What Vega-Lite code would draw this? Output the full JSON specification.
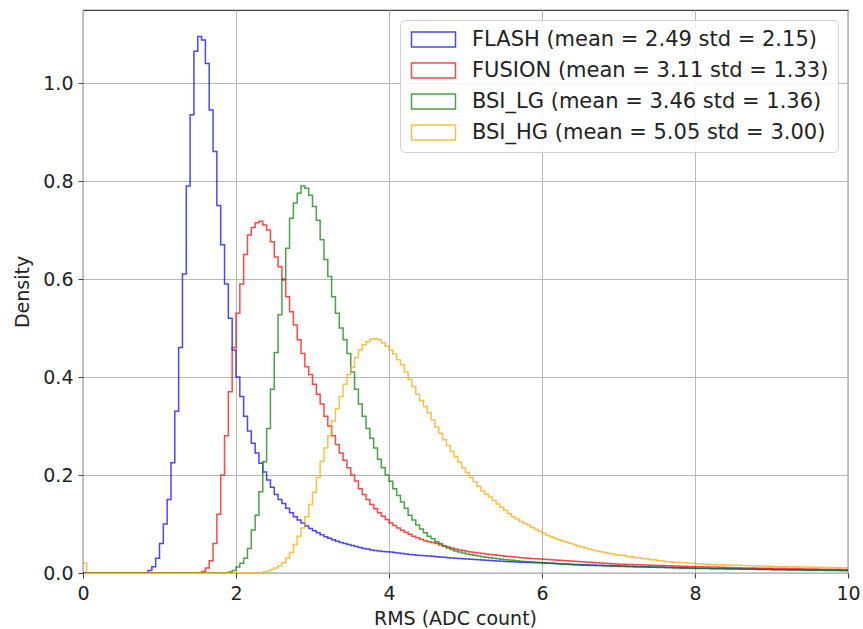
{
  "$schema": "https://vega.github.io/schema/vega-lite/v6.json",
  "width": 765,
  "height": 563,
  "autosize": {"type": "none"},
  "padding": {"left": 83, "top": 10, "right": 15, "bottom": 56},
  "background": "white",
  "config": {
    "font": "DejaVu Sans",
    "view": {"stroke": "#444", "strokeWidth": 1.2},
    "axis": {
      "domain": false,
      "grid": true,
      "gridColor": "#b8b8b8",
      "gridWidth": 1,
      "tickColor": "#444",
      "tickSize": 5,
      "tickWidth": 1,
      "labelFont": "DejaVu Sans",
      "labelFontSize": 19,
      "labelColor": "#222",
      "titleFont": "DejaVu Sans",
      "titleFontSize": 19,
      "titleFontWeight": "normal",
      "titleColor": "#222"
    },
    "legend": {
      "labelFont": "DejaVu Sans",
      "labelFontSize": 21,
      "labelColor": "#222"
    }
  },
  "data": {
    "values": [
      {"x": 0.0, "FLASH": 0, "FUSION": 0, "BSI_LG": 0, "BSI_HG": 0.02},
      {"x": 0.05, "FLASH": 0, "FUSION": 0, "BSI_LG": 0, "BSI_HG": 0},
      {"x": 0.8, "FLASH": 0, "FUSION": 0, "BSI_LG": 0, "BSI_HG": 0},
      {"x": 0.85, "FLASH": 0.005, "FUSION": 0, "BSI_LG": 0, "BSI_HG": 0},
      {"x": 0.9, "FLASH": 0.013, "FUSION": 0, "BSI_LG": 0, "BSI_HG": 0},
      {"x": 0.95, "FLASH": 0.03, "FUSION": 0, "BSI_LG": 0, "BSI_HG": 0},
      {"x": 1.0, "FLASH": 0.06, "FUSION": 0, "BSI_LG": 0, "BSI_HG": 0},
      {"x": 1.05, "FLASH": 0.1, "FUSION": 0, "BSI_LG": 0, "BSI_HG": 0},
      {"x": 1.1, "FLASH": 0.15, "FUSION": 0, "BSI_LG": 0, "BSI_HG": 0},
      {"x": 1.15, "FLASH": 0.225, "FUSION": 0, "BSI_LG": 0, "BSI_HG": 0},
      {"x": 1.2, "FLASH": 0.33, "FUSION": 0, "BSI_LG": 0, "BSI_HG": 0},
      {"x": 1.25, "FLASH": 0.46, "FUSION": 0, "BSI_LG": 0, "BSI_HG": 0},
      {"x": 1.3, "FLASH": 0.61, "FUSION": 0, "BSI_LG": 0, "BSI_HG": 0},
      {"x": 1.35, "FLASH": 0.79, "FUSION": 0, "BSI_LG": 0, "BSI_HG": 0},
      {"x": 1.4, "FLASH": 0.935, "FUSION": 0, "BSI_LG": 0, "BSI_HG": 0},
      {"x": 1.45, "FLASH": 1.065, "FUSION": 0, "BSI_LG": 0, "BSI_HG": 0},
      {"x": 1.5, "FLASH": 1.095, "FUSION": 0, "BSI_LG": 0, "BSI_HG": 0},
      {"x": 1.55, "FLASH": 1.088, "FUSION": 0.003, "BSI_LG": 0, "BSI_HG": 0},
      {"x": 1.6, "FLASH": 1.04, "FUSION": 0.01, "BSI_LG": 0, "BSI_HG": 0},
      {"x": 1.65, "FLASH": 0.945, "FUSION": 0.025, "BSI_LG": 0, "BSI_HG": 0},
      {"x": 1.7, "FLASH": 0.86, "FUSION": 0.06, "BSI_LG": 0, "BSI_HG": 0},
      {"x": 1.75, "FLASH": 0.75, "FUSION": 0.12, "BSI_LG": 0, "BSI_HG": 0},
      {"x": 1.8, "FLASH": 0.67, "FUSION": 0.2, "BSI_LG": 0, "BSI_HG": 0},
      {"x": 1.85, "FLASH": 0.59, "FUSION": 0.28, "BSI_LG": 0, "BSI_HG": 0},
      {"x": 1.9, "FLASH": 0.52, "FUSION": 0.37, "BSI_LG": 0.002, "BSI_HG": 0},
      {"x": 1.95, "FLASH": 0.455, "FUSION": 0.46, "BSI_LG": 0.005, "BSI_HG": 0},
      {"x": 2.0, "FLASH": 0.4, "FUSION": 0.53, "BSI_LG": 0.012, "BSI_HG": 0},
      {"x": 2.05, "FLASH": 0.36, "FUSION": 0.59, "BSI_LG": 0.02, "BSI_HG": 0},
      {"x": 2.1, "FLASH": 0.32, "FUSION": 0.65, "BSI_LG": 0.03, "BSI_HG": 0},
      {"x": 2.15, "FLASH": 0.29, "FUSION": 0.69, "BSI_LG": 0.05, "BSI_HG": 0},
      {"x": 2.2, "FLASH": 0.265, "FUSION": 0.705, "BSI_LG": 0.088, "BSI_HG": 0},
      {"x": 2.25, "FLASH": 0.245, "FUSION": 0.715, "BSI_LG": 0.118, "BSI_HG": 0},
      {"x": 2.3, "FLASH": 0.224, "FUSION": 0.718, "BSI_LG": 0.166, "BSI_HG": 0},
      {"x": 2.35, "FLASH": 0.206, "FUSION": 0.71, "BSI_LG": 0.227, "BSI_HG": 0.002},
      {"x": 2.4, "FLASH": 0.19, "FUSION": 0.7, "BSI_LG": 0.295, "BSI_HG": 0.004},
      {"x": 2.45, "FLASH": 0.175, "FUSION": 0.676, "BSI_LG": 0.375, "BSI_HG": 0.007},
      {"x": 2.5, "FLASH": 0.16, "FUSION": 0.645, "BSI_LG": 0.45, "BSI_HG": 0.01},
      {"x": 2.55, "FLASH": 0.15, "FUSION": 0.625, "BSI_LG": 0.527, "BSI_HG": 0.015},
      {"x": 2.6, "FLASH": 0.142, "FUSION": 0.598, "BSI_LG": 0.6, "BSI_HG": 0.021},
      {"x": 2.65, "FLASH": 0.132, "FUSION": 0.564, "BSI_LG": 0.663, "BSI_HG": 0.03},
      {"x": 2.7, "FLASH": 0.123, "FUSION": 0.533, "BSI_LG": 0.724, "BSI_HG": 0.042},
      {"x": 2.75, "FLASH": 0.115, "FUSION": 0.506, "BSI_LG": 0.755, "BSI_HG": 0.058},
      {"x": 2.8, "FLASH": 0.108, "FUSION": 0.476, "BSI_LG": 0.775, "BSI_HG": 0.075},
      {"x": 2.85, "FLASH": 0.102, "FUSION": 0.448, "BSI_LG": 0.79, "BSI_HG": 0.092},
      {"x": 2.9, "FLASH": 0.096, "FUSION": 0.421, "BSI_LG": 0.785, "BSI_HG": 0.115},
      {"x": 2.95, "FLASH": 0.091, "FUSION": 0.405, "BSI_LG": 0.771, "BSI_HG": 0.14},
      {"x": 3.0, "FLASH": 0.086, "FUSION": 0.385, "BSI_LG": 0.748, "BSI_HG": 0.165},
      {"x": 3.05, "FLASH": 0.082, "FUSION": 0.365, "BSI_LG": 0.72, "BSI_HG": 0.195},
      {"x": 3.1, "FLASH": 0.078, "FUSION": 0.345, "BSI_LG": 0.68, "BSI_HG": 0.228},
      {"x": 3.15, "FLASH": 0.074, "FUSION": 0.32, "BSI_LG": 0.64, "BSI_HG": 0.255},
      {"x": 3.2, "FLASH": 0.071, "FUSION": 0.3, "BSI_LG": 0.605, "BSI_HG": 0.28},
      {"x": 3.25, "FLASH": 0.068, "FUSION": 0.28, "BSI_LG": 0.564, "BSI_HG": 0.31},
      {"x": 3.3, "FLASH": 0.065, "FUSION": 0.262, "BSI_LG": 0.53, "BSI_HG": 0.335},
      {"x": 3.35, "FLASH": 0.062, "FUSION": 0.245, "BSI_LG": 0.5, "BSI_HG": 0.36},
      {"x": 3.4, "FLASH": 0.06, "FUSION": 0.23, "BSI_LG": 0.476, "BSI_HG": 0.385},
      {"x": 3.45, "FLASH": 0.058, "FUSION": 0.215, "BSI_LG": 0.448, "BSI_HG": 0.405},
      {"x": 3.5, "FLASH": 0.056, "FUSION": 0.2, "BSI_LG": 0.41, "BSI_HG": 0.42},
      {"x": 3.55, "FLASH": 0.054, "FUSION": 0.188, "BSI_LG": 0.375, "BSI_HG": 0.44},
      {"x": 3.6, "FLASH": 0.052, "FUSION": 0.172, "BSI_LG": 0.345, "BSI_HG": 0.455},
      {"x": 3.65, "FLASH": 0.05, "FUSION": 0.16, "BSI_LG": 0.32, "BSI_HG": 0.466},
      {"x": 3.7, "FLASH": 0.049, "FUSION": 0.15, "BSI_LG": 0.295, "BSI_HG": 0.472},
      {"x": 3.75, "FLASH": 0.047, "FUSION": 0.14, "BSI_LG": 0.275, "BSI_HG": 0.477},
      {"x": 3.8, "FLASH": 0.046, "FUSION": 0.131, "BSI_LG": 0.255, "BSI_HG": 0.478},
      {"x": 3.85, "FLASH": 0.045, "FUSION": 0.123, "BSI_LG": 0.232, "BSI_HG": 0.476},
      {"x": 3.9, "FLASH": 0.044, "FUSION": 0.116, "BSI_LG": 0.215, "BSI_HG": 0.47},
      {"x": 3.95, "FLASH": 0.0435, "FUSION": 0.109, "BSI_LG": 0.2, "BSI_HG": 0.463},
      {"x": 4.0, "FLASH": 0.043, "FUSION": 0.102, "BSI_LG": 0.187, "BSI_HG": 0.455},
      {"x": 4.05, "FLASH": 0.042, "FUSION": 0.097, "BSI_LG": 0.172, "BSI_HG": 0.447},
      {"x": 4.1, "FLASH": 0.041, "FUSION": 0.092, "BSI_LG": 0.158, "BSI_HG": 0.435},
      {"x": 4.15, "FLASH": 0.04, "FUSION": 0.087, "BSI_LG": 0.145, "BSI_HG": 0.425},
      {"x": 4.2, "FLASH": 0.039, "FUSION": 0.083, "BSI_LG": 0.132, "BSI_HG": 0.41},
      {"x": 4.25, "FLASH": 0.038, "FUSION": 0.079, "BSI_LG": 0.118, "BSI_HG": 0.395},
      {"x": 4.3, "FLASH": 0.037, "FUSION": 0.075, "BSI_LG": 0.108, "BSI_HG": 0.38},
      {"x": 4.35, "FLASH": 0.036, "FUSION": 0.072, "BSI_LG": 0.098, "BSI_HG": 0.365},
      {"x": 4.4, "FLASH": 0.0355, "FUSION": 0.069, "BSI_LG": 0.09, "BSI_HG": 0.352},
      {"x": 4.45, "FLASH": 0.035, "FUSION": 0.066, "BSI_LG": 0.082, "BSI_HG": 0.34},
      {"x": 4.5, "FLASH": 0.0345, "FUSION": 0.064, "BSI_LG": 0.075, "BSI_HG": 0.327},
      {"x": 4.55, "FLASH": 0.034, "FUSION": 0.062, "BSI_LG": 0.07, "BSI_HG": 0.312},
      {"x": 4.6, "FLASH": 0.033, "FUSION": 0.06, "BSI_LG": 0.064, "BSI_HG": 0.298},
      {"x": 4.65, "FLASH": 0.0325, "FUSION": 0.057, "BSI_LG": 0.06, "BSI_HG": 0.285},
      {"x": 4.7, "FLASH": 0.032, "FUSION": 0.055, "BSI_LG": 0.055, "BSI_HG": 0.272},
      {"x": 4.75, "FLASH": 0.031, "FUSION": 0.053, "BSI_LG": 0.051, "BSI_HG": 0.26},
      {"x": 4.8, "FLASH": 0.0305, "FUSION": 0.051, "BSI_LG": 0.048, "BSI_HG": 0.248},
      {"x": 4.85, "FLASH": 0.03, "FUSION": 0.049, "BSI_LG": 0.045, "BSI_HG": 0.237},
      {"x": 4.9, "FLASH": 0.0295, "FUSION": 0.047, "BSI_LG": 0.043, "BSI_HG": 0.226},
      {"x": 4.95, "FLASH": 0.029, "FUSION": 0.046, "BSI_LG": 0.041, "BSI_HG": 0.215},
      {"x": 5.0, "FLASH": 0.0285, "FUSION": 0.044, "BSI_LG": 0.039, "BSI_HG": 0.205},
      {"x": 5.05, "FLASH": 0.028, "FUSION": 0.043, "BSI_LG": 0.0375, "BSI_HG": 0.195},
      {"x": 5.1, "FLASH": 0.0275, "FUSION": 0.042, "BSI_LG": 0.036, "BSI_HG": 0.186},
      {"x": 5.15, "FLASH": 0.027, "FUSION": 0.041, "BSI_LG": 0.0345, "BSI_HG": 0.177},
      {"x": 5.2, "FLASH": 0.0265, "FUSION": 0.04, "BSI_LG": 0.033, "BSI_HG": 0.168},
      {"x": 5.25, "FLASH": 0.026, "FUSION": 0.039, "BSI_LG": 0.032, "BSI_HG": 0.161},
      {"x": 5.3, "FLASH": 0.0255, "FUSION": 0.038, "BSI_LG": 0.031, "BSI_HG": 0.155},
      {"x": 5.35, "FLASH": 0.025, "FUSION": 0.037, "BSI_LG": 0.03, "BSI_HG": 0.148},
      {"x": 5.4, "FLASH": 0.0245, "FUSION": 0.036, "BSI_LG": 0.029, "BSI_HG": 0.141},
      {"x": 5.45, "FLASH": 0.024, "FUSION": 0.035, "BSI_LG": 0.028, "BSI_HG": 0.134},
      {"x": 5.5, "FLASH": 0.0235, "FUSION": 0.034, "BSI_LG": 0.027, "BSI_HG": 0.128},
      {"x": 5.55, "FLASH": 0.0232, "FUSION": 0.0335, "BSI_LG": 0.0265, "BSI_HG": 0.121},
      {"x": 5.6, "FLASH": 0.023, "FUSION": 0.033, "BSI_LG": 0.026, "BSI_HG": 0.115},
      {"x": 5.65, "FLASH": 0.0225, "FUSION": 0.032, "BSI_LG": 0.025, "BSI_HG": 0.11},
      {"x": 5.7, "FLASH": 0.022, "FUSION": 0.031, "BSI_LG": 0.024, "BSI_HG": 0.105},
      {"x": 5.75, "FLASH": 0.0218, "FUSION": 0.0305, "BSI_LG": 0.0235, "BSI_HG": 0.101},
      {"x": 5.8, "FLASH": 0.0215, "FUSION": 0.03, "BSI_LG": 0.023, "BSI_HG": 0.098},
      {"x": 5.85, "FLASH": 0.0212, "FUSION": 0.0295, "BSI_LG": 0.0225, "BSI_HG": 0.093},
      {"x": 5.9, "FLASH": 0.021, "FUSION": 0.029, "BSI_LG": 0.022, "BSI_HG": 0.089},
      {"x": 5.95, "FLASH": 0.0207, "FUSION": 0.0285, "BSI_LG": 0.0215, "BSI_HG": 0.085},
      {"x": 6.0, "FLASH": 0.0205, "FUSION": 0.028, "BSI_LG": 0.021, "BSI_HG": 0.081},
      {"x": 6.05, "FLASH": 0.0201, "FUSION": 0.0275, "BSI_LG": 0.0205, "BSI_HG": 0.077},
      {"x": 6.1, "FLASH": 0.0198, "FUSION": 0.027, "BSI_LG": 0.02, "BSI_HG": 0.074},
      {"x": 6.15, "FLASH": 0.0194, "FUSION": 0.0265, "BSI_LG": 0.0195, "BSI_HG": 0.071},
      {"x": 6.2, "FLASH": 0.019, "FUSION": 0.026, "BSI_LG": 0.019, "BSI_HG": 0.068},
      {"x": 6.25, "FLASH": 0.0186, "FUSION": 0.0255, "BSI_LG": 0.0185, "BSI_HG": 0.0655},
      {"x": 6.3, "FLASH": 0.0183, "FUSION": 0.025, "BSI_LG": 0.018, "BSI_HG": 0.063},
      {"x": 6.35, "FLASH": 0.018, "FUSION": 0.0245, "BSI_LG": 0.0175, "BSI_HG": 0.0605},
      {"x": 6.4, "FLASH": 0.0176, "FUSION": 0.024, "BSI_LG": 0.017, "BSI_HG": 0.058},
      {"x": 6.45, "FLASH": 0.0173, "FUSION": 0.0235, "BSI_LG": 0.0165, "BSI_HG": 0.0555},
      {"x": 6.5, "FLASH": 0.017, "FUSION": 0.023, "BSI_LG": 0.016, "BSI_HG": 0.053},
      {"x": 6.55, "FLASH": 0.0167, "FUSION": 0.0225, "BSI_LG": 0.0158, "BSI_HG": 0.051},
      {"x": 6.6, "FLASH": 0.0165, "FUSION": 0.022, "BSI_LG": 0.0155, "BSI_HG": 0.049},
      {"x": 6.65, "FLASH": 0.0162, "FUSION": 0.0215, "BSI_LG": 0.0152, "BSI_HG": 0.047},
      {"x": 6.7, "FLASH": 0.016, "FUSION": 0.021, "BSI_LG": 0.015, "BSI_HG": 0.045},
      {"x": 6.75, "FLASH": 0.0157, "FUSION": 0.0205, "BSI_LG": 0.0148, "BSI_HG": 0.0435},
      {"x": 6.8, "FLASH": 0.0155, "FUSION": 0.02, "BSI_LG": 0.0145, "BSI_HG": 0.042},
      {"x": 6.85, "FLASH": 0.0152, "FUSION": 0.0195, "BSI_LG": 0.0142, "BSI_HG": 0.0405},
      {"x": 6.9, "FLASH": 0.015, "FUSION": 0.019, "BSI_LG": 0.014, "BSI_HG": 0.039},
      {"x": 6.95, "FLASH": 0.0147, "FUSION": 0.0185, "BSI_LG": 0.0138, "BSI_HG": 0.0375},
      {"x": 7.0, "FLASH": 0.0145, "FUSION": 0.018, "BSI_LG": 0.0135, "BSI_HG": 0.036},
      {"x": 7.1, "FLASH": 0.014, "FUSION": 0.0175, "BSI_LG": 0.013, "BSI_HG": 0.033},
      {"x": 7.2, "FLASH": 0.0135, "FUSION": 0.017, "BSI_LG": 0.0125, "BSI_HG": 0.031},
      {"x": 7.3, "FLASH": 0.013, "FUSION": 0.0165, "BSI_LG": 0.012, "BSI_HG": 0.029},
      {"x": 7.4, "FLASH": 0.0125, "FUSION": 0.016, "BSI_LG": 0.0115, "BSI_HG": 0.027},
      {"x": 7.5, "FLASH": 0.012, "FUSION": 0.0155, "BSI_LG": 0.011, "BSI_HG": 0.025},
      {"x": 7.6, "FLASH": 0.0115, "FUSION": 0.015, "BSI_LG": 0.0105, "BSI_HG": 0.023},
      {"x": 7.7, "FLASH": 0.011, "FUSION": 0.0145, "BSI_LG": 0.01, "BSI_HG": 0.022},
      {"x": 7.8, "FLASH": 0.0105, "FUSION": 0.014, "BSI_LG": 0.0098, "BSI_HG": 0.021},
      {"x": 7.9, "FLASH": 0.01, "FUSION": 0.0135, "BSI_LG": 0.0095, "BSI_HG": 0.02},
      {"x": 8.0, "FLASH": 0.0098, "FUSION": 0.013, "BSI_LG": 0.0092, "BSI_HG": 0.019},
      {"x": 8.1, "FLASH": 0.0095, "FUSION": 0.0125, "BSI_LG": 0.009, "BSI_HG": 0.018},
      {"x": 8.2, "FLASH": 0.0092, "FUSION": 0.012, "BSI_LG": 0.0087, "BSI_HG": 0.0175},
      {"x": 8.3, "FLASH": 0.009, "FUSION": 0.0115, "BSI_LG": 0.0085, "BSI_HG": 0.017},
      {"x": 8.4, "FLASH": 0.0087, "FUSION": 0.011, "BSI_LG": 0.0082, "BSI_HG": 0.0165},
      {"x": 8.5, "FLASH": 0.0085, "FUSION": 0.0107, "BSI_LG": 0.008, "BSI_HG": 0.016},
      {"x": 8.6, "FLASH": 0.0082, "FUSION": 0.0104, "BSI_LG": 0.0077, "BSI_HG": 0.0155},
      {"x": 8.7, "FLASH": 0.008, "FUSION": 0.0101, "BSI_LG": 0.0075, "BSI_HG": 0.015},
      {"x": 8.8, "FLASH": 0.0077, "FUSION": 0.0098, "BSI_LG": 0.0072, "BSI_HG": 0.0145},
      {"x": 8.9, "FLASH": 0.0075, "FUSION": 0.0095, "BSI_LG": 0.007, "BSI_HG": 0.014},
      {"x": 9.0, "FLASH": 0.0072, "FUSION": 0.0092, "BSI_LG": 0.0067, "BSI_HG": 0.0135},
      {"x": 9.1, "FLASH": 0.007, "FUSION": 0.009, "BSI_LG": 0.0065, "BSI_HG": 0.013},
      {"x": 9.2, "FLASH": 0.0068, "FUSION": 0.0087, "BSI_LG": 0.0062, "BSI_HG": 0.0127},
      {"x": 9.3, "FLASH": 0.0066, "FUSION": 0.0085, "BSI_LG": 0.006, "BSI_HG": 0.0124},
      {"x": 9.4, "FLASH": 0.0064, "FUSION": 0.0082, "BSI_LG": 0.0058, "BSI_HG": 0.0121},
      {"x": 9.5, "FLASH": 0.0062, "FUSION": 0.008, "BSI_LG": 0.0056, "BSI_HG": 0.0118},
      {"x": 9.6, "FLASH": 0.006, "FUSION": 0.0078, "BSI_LG": 0.0054, "BSI_HG": 0.0115},
      {"x": 9.7, "FLASH": 0.0058, "FUSION": 0.0076, "BSI_LG": 0.0052, "BSI_HG": 0.0113},
      {"x": 9.8, "FLASH": 0.0056, "FUSION": 0.0074, "BSI_LG": 0.005, "BSI_HG": 0.0111},
      {"x": 9.9, "FLASH": 0.0054, "FUSION": 0.0072, "BSI_LG": 0.0048, "BSI_HG": 0.0109},
      {"x": 10.0, "FLASH": 0.0052, "FUSION": 0.007, "BSI_LG": 0.0046, "BSI_HG": 0.0107}
    ]
  },
  "transform": [
    {"fold": ["FLASH", "FUSION", "BSI_LG", "BSI_HG"], "as": ["series", "density"]}
  ],
  "mark": {"type": "line", "interpolate": "step-after", "strokeWidth": 1.5, "opacity": 0.72, "clip": true},
  "encoding": {
    "x": {
      "field": "x",
      "type": "quantitative",
      "scale": {"domain": [0, 10], "nice": false, "zero": false},
      "axis": {"title": "RMS (ADC count)", "values": [0, 2, 4, 6, 8, 10], "format": "d", "labelPadding": 6, "titlePadding": 6, "labelFlush": false, "titleX": 372, "titleAlign": "center"}
    },
    "y": {
      "field": "density",
      "type": "quantitative",
      "scale": {"domain": [0, 1.149], "nice": false, "zero": false},
      "axis": {"title": "Density", "values": [0, 0.2, 0.4, 0.6, 0.8, 1.0], "format": ".1f", "labelPadding": 5, "titlePadding": 10}
    },
    "color": {
      "field": "series",
      "type": "nominal",
      "scale": {"domain": ["FLASH", "FUSION", "BSI_LG", "BSI_HG"], "range": ["#0000ff", "#ff0000", "#008000", "#ffa500"]},
      "legend": {
        "title": null,
        "orient": "top-right",
        "offset": 10,
        "padding": 9,
        "fillColor": "rgba(255,255,255,0.85)",
        "strokeColor": "#d0d0d0",
        "cornerRadius": 5,
        "symbolType": "M-2.933,-1H2.933V1H-2.933Z",
        "symbolSize": 225,
        "symbolOffset": 14,
        "symbolStrokeWidth": 1.5,
        "symbolFillColor": "transparent",
        "symbolOpacity": 0.72,
        "labelOffset": 28,
        "labelLimit": 0,
        "rowPadding": 9,
        "labelExpr": "datum.label == 'FLASH' ? 'FLASH (mean = 2.49 std = 2.15)' : datum.label == 'FUSION' ? 'FUSION (mean = 3.11 std = 1.33)' : datum.label == 'BSI_LG' ? 'BSI_LG (mean = 3.46 std = 1.36)' : 'BSI_HG (mean = 5.05 std = 3.00)'"
      }
    },
    "order": {"field": "x", "type": "quantitative"}
  }
}
